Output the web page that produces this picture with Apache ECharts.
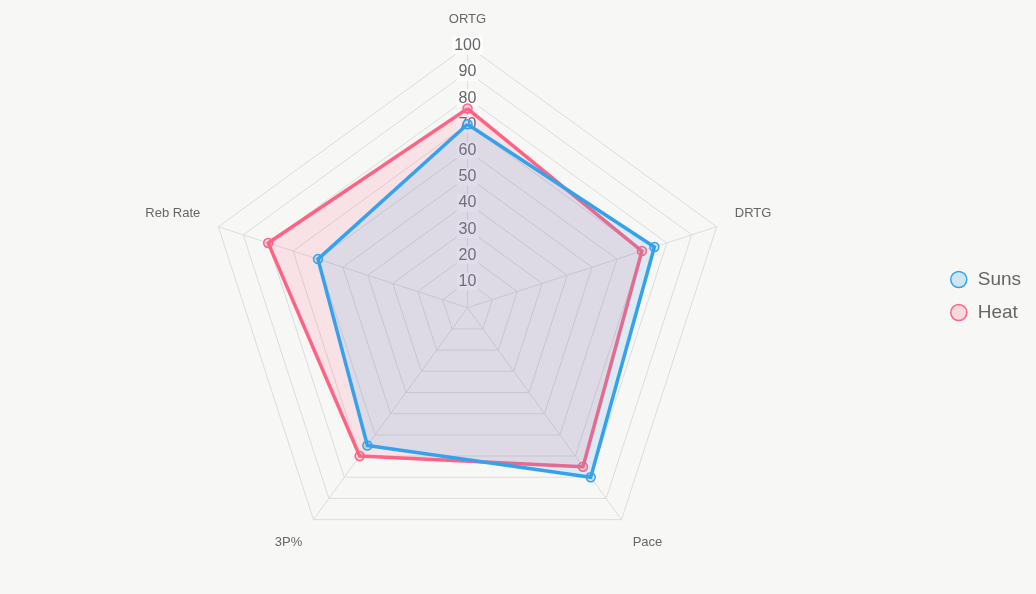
<!DOCTYPE html>
<html>
<head>
<meta charset="utf-8">
<script src="https://cdn.jsdelivr.net/npm/echarts@6/dist/echarts.min.js"></script>
<style>
  html, body { margin: 0; padding: 0; background: #f7f7f5; }
  #chart { width: 1036px; height: 594px; }
</style>
</head>
<body>
<div id="chart"></div>
<script>
// stats compared on a 0-100 scale, listed clockwise from the top
const categories = ['ORTG', 'DRTG', 'Pace', '3P%', 'Reb Rate']
const sunsValues = [70, 75, 80, 65, 60]
const heatValues = [76, 70, 75, 70, 80]
const scaleMax = 100
const scaleStep = 10

// echarts lays radar axes out counter-clockwise, so keep the first and flip the rest
const clockwise = arr => [arr[0]].concat(arr.slice(1).reverse())

const chart = echarts.init(document.getElementById('chart'))
const center = [467.5, 307.7]
const radius = 262
const blue = '#36a2eb'
const red = '#ff6384'

// nudge side labels up and bottom labels down, like chart.js point labels
const nameFormatter = name => {
  const i = categories.indexOf(name)
  if (i === 1 || i === 4) return name + '\n'
  if (i === 2 || i === 3) return '\n' + name
  return name
}

const option = {
  backgroundColor: '#f7f7f5',
  textStyle: { fontFamily: 'Liberation Sans, Arial, sans-serif' },
  legend: {
    orient: 'vertical',
    left: 945,
    top: 265,
    itemWidth: 16,
    itemHeight: 16,
    itemGap: 14,
    icon: 'circle',
    textStyle: { color: '#666', fontSize: 19, padding: [0, 0, 0, 6] },
    data: [
      { name: 'Suns', itemStyle: { color: 'rgba(54,162,235,0.2)', borderColor: blue, borderWidth: 1.5 } },
      { name: 'Heat', itemStyle: { color: 'rgba(255,99,132,0.2)', borderColor: red, borderWidth: 1.5 } }
    ]
  },
  radar: {
    center: center,
    radius: radius,
    startAngle: 90,
    shape: 'polygon',
    splitNumber: scaleMax / scaleStep,
    indicator: clockwise(categories).map(c => ({ name: c, min: 0, max: scaleMax })),
    axisName: { color: '#666', fontSize: 13, lineHeight: 15, formatter: nameFormatter },
    nameGap: 19,
    splitLine: { lineStyle: { color: '#dddddd', width: 1 } },
    splitArea: { show: false },
    axisLine: { lineStyle: { color: '#dddddd', width: 1 } },
    z: 0
  },
  polar: { center: center, radius: radius },
  angleAxis: { show: false, startAngle: 90 },
  radiusAxis: {
    min: 0,
    max: scaleMax,
    interval: scaleStep,
    z: 1,
    axisLine: { show: false },
    axisTick: { show: false },
    splitLine: { show: false },
    axisLabel: {
      showMinLabel: false,
      margin: 0,
      align: 'center',
      verticalAlign: 'middle',
      color: '#666',
      fontSize: 16,
      backgroundColor: 'rgba(255,255,255,0.75)',
      padding: [1, 2]
    }
  },
  series: [
    {
      name: 'Heat',
      type: 'radar',
      z: 2,
      symbol: 'circle',
      symbolSize: 9,
      lineStyle: { color: red, width: 3.5 },
      itemStyle: { color: 'rgba(255,99,132,0.2)', borderColor: red, borderWidth: 1.5 },
      areaStyle: { color: 'rgba(255,99,132,0.2)' },
      data: [{ name: 'Heat', value: clockwise(heatValues) }]
    },
    {
      name: 'Suns',
      type: 'radar',
      z: 3,
      symbol: 'circle',
      symbolSize: 9,
      lineStyle: { color: blue, width: 3.5 },
      itemStyle: { color: 'rgba(54,162,235,0.2)', borderColor: blue, borderWidth: 1.5 },
      areaStyle: { color: 'rgba(54,162,235,0.2)' },
      data: [{ name: 'Suns', value: clockwise(sunsValues) }]
    }
  ]
}
chart.setOption(option)
</script>
</body>
</html>
